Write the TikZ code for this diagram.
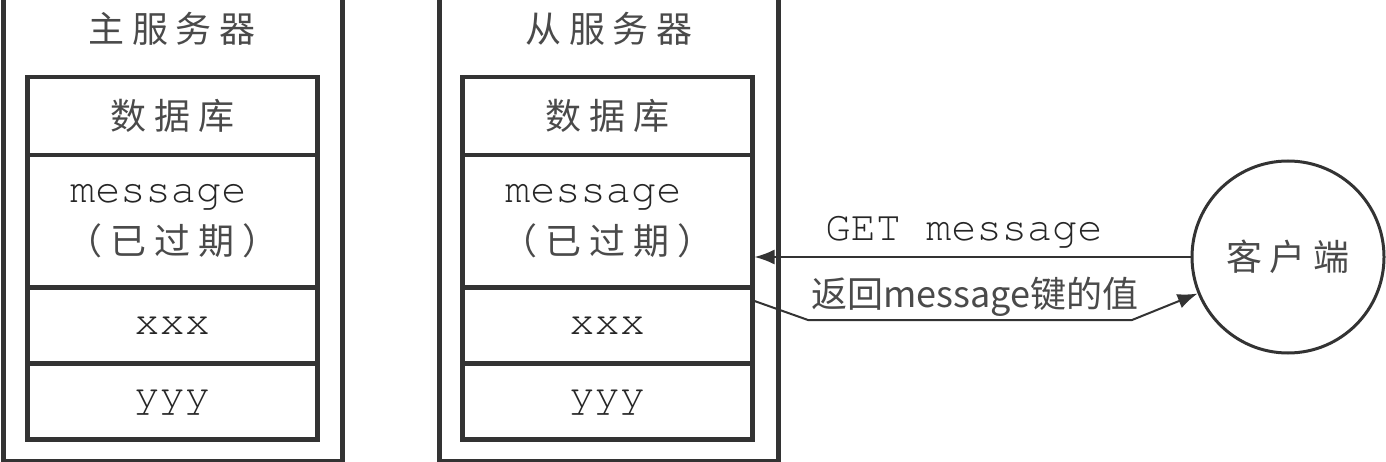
\documentclass[tikz,border=0pt]{standalone}
\usepackage[T1]{fontenc}
\usepackage{fontspec}
\newfontfamily\cjk{Noto Sans CJK SC}
\newfontfamily\cjksp[LetterSpace=22]{Noto Sans CJK SC}
\newcommand\mono{\fontencoding{T1}\fontfamily{pcr}\fontseries{m}\fontshape{n}\selectfont}
\usetikzlibrary{arrows.meta,calc}
\definecolor{ln}{HTML}{333333}
\definecolor{tx}{HTML}{4A4A4A}
\definecolor{mtx}{HTML}{262626}
\tikzset{
  outerbox/.style={draw=ln, line width=4.5pt, inner sep=0pt, anchor=north west, minimum width=339pt, minimum height=489pt},
  cell/.style={draw=ln, line width=4.5pt, inner sep=0pt, anchor=north west, minimum width=290pt, text=tx},
  cjktext/.style={text=tx, font=\cjksp\fontsize{36}{52}\selectfont},
  monotext/.style={text=mtx, font=\fontsize{42}{50}\selectfont\mono},
  conn/.style={draw=ln, line width=2pt, -{Latex[length=20pt,width=15pt]}},
}
\begin{document}
\begin{tikzpicture}[x=1pt,y=-1pt]
\useasboundingbox (0,0) rectangle (1386,462);
% outer server boxes
\node[outerbox] (mout) at (1,-30) {};
\node[outerbox] (sout) at (437,-30) {};
% titles
\node[cjktext, anchor=base] (mtitle) at (172,43) {主服务器};
\node[cjktext, anchor=base] (stitle) at (609,43) {从服务器};
% master database
\node[cell, minimum height=78pt, cjktext] (mdb) at (25,75) {数据库};
\node[cell, minimum height=132pt, align=center, font=\fontsize{36}{52}\selectfont] (mmsg) at (25,153) {{\fontsize{42}{50}\selectfont\mono\color{mtx}message\kern28pt}\\{\cjksp（已过期）}};
\node[cell, minimum height=76pt, monotext] (mxxx) at (25,285) {xxx};
\node[cell, minimum height=76pt, monotext] (myyy) at (25,361) {yyy};
% slave database
\node[cell, minimum height=78pt, cjktext] (sdb) at (460,75) {数据库};
\node[cell, minimum height=132pt, align=center, font=\fontsize{36}{52}\selectfont] (smsg) at (460,153) {{\fontsize{42}{50}\selectfont\mono\color{mtx}message\kern28pt}\\{\cjksp（已过期）}};
\node[cell, minimum height=76pt, monotext] (sxxx) at (460,285) {xxx};
\node[cell, minimum height=76pt, monotext] (syyy) at (460,361) {yyy};
% client
\node[draw=ln, line width=3pt, circle, minimum size=192pt, inner sep=0pt, cjktext] (client) at (1288,257) {客户端};
% connectors
\draw[conn] (client.west) -- (client.west -| smsg.east);
\coordinate (r1) at (808,320);
\coordinate (r2) at (1132,320);
\draw[conn] ($(sxxx.north east)+(0,16)$) -- (r1) -- (r2) -- (client.202);
% labels
\node[monotext, anchor=base] (getlbl) at (964,241) {GET message};
\node[text=tx, font=\cjk\fontsize{36}{44}\selectfont, anchor=base] (retlbl) at (975,307) {返回message键的值};
\end{tikzpicture}
\end{document}
